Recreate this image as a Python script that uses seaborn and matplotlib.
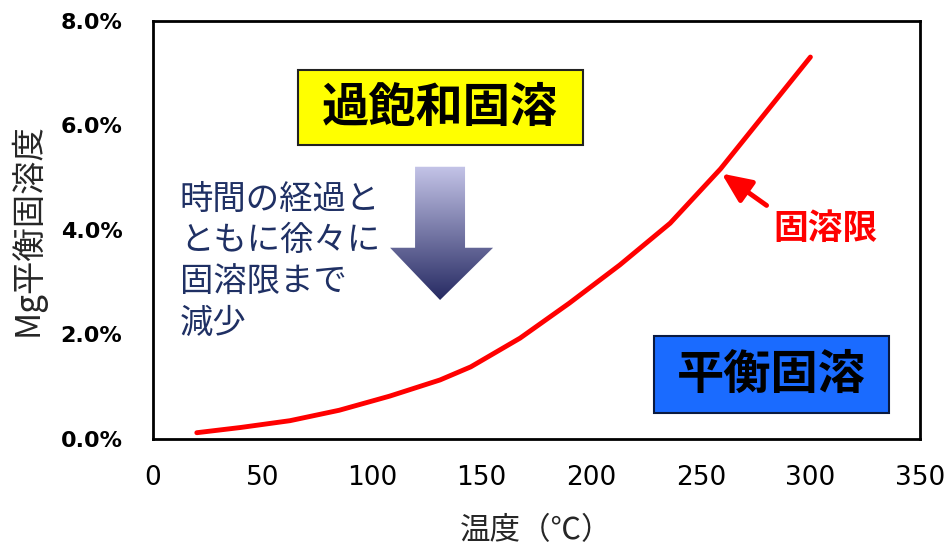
import numpy as np
import pandas as pd
import seaborn as sns
import matplotlib.pyplot as plt
from matplotlib.patches import Rectangle, Polygon
from matplotlib.ticker import FuncFormatter

# solubility curve (temperature C, Mg %)
temp_c = [20, 40, 62.5, 85, 108, 131, 145, 167.5, 190, 213, 236, 259, 277, 300]
mg_pct = [0.12, 0.22, 0.35, 0.55, 0.82, 1.13, 1.38, 1.93, 2.60, 3.33, 4.13, 5.17, 6.11, 7.31]

x_ticks = [0, 50, 100, 150, 200, 250, 300, 350]
y_ticks = [0, 2, 4, 6, 8]

label_super = "過飽和固溶"
label_eq = "平衡固溶"
label_limit = "固溶限"
note_text = "時間の経過と\nともに徐々に\n固溶限まで\n減少"

sns.set_theme(style="white")
plt.rcParams["font.family"] = ["Noto Sans CJK JP", "DejaVu Sans"]

df = pd.DataFrame({"temp": temp_c, "mg": mg_pct})

fig = plt.figure(figsize=(9.46, 5.51), dpi=100)
ax = fig.add_axes([0.1617, 0.2033, 0.8108, 0.7586])

sns.lineplot(data=df, x="temp", y="mg", ax=ax, color="#ff0000", linewidth=3.5,
             solid_capstyle="round", solid_joinstyle="round")

ax.set_xlim(0, 350)
ax.set_ylim(0, 8)
ax.set_xticks(x_ticks)
ax.set_yticks(y_ticks)
ax.yaxis.set_major_formatter(FuncFormatter(lambda v, p: f"{v:.1f}%"))
ax.tick_params(length=0, colors="black")
ax.tick_params(axis="y", pad=22, labelsize=16, labelfontfamily="DejaVu Sans")
ax.tick_params(axis="x", pad=19, labelsize=19, labelfontfamily="DejaVu Sans")
for sp in ax.spines.values():
    sp.set_color("black")
    sp.set_linewidth(2)

ax.set_xlabel("温度（℃）", fontsize=22, labelpad=17)
ax.set_ylabel("Mg平衡固溶度", fontsize=24, labelpad=11)

# yellow box
ax.add_patch(Rectangle((66.2, 5.63), 130.1, 1.43, facecolor="#ffff00",
                       edgecolor="#222222", linewidth=1.5, zorder=3))
ax.text(131, 6.34, label_super, ha="center", va="center", fontsize=34,
        fontweight="bold", color="black", zorder=4)

# blue box
ax.add_patch(Rectangle((228.7, 0.50), 107.2, 1.47, facecolor="#1a6bff",
                       edgecolor="#0a1a40", linewidth=1.5, zorder=3))
ax.text(282, 1.22, label_eq, ha="center", va="center", fontsize=34,
        fontweight="bold", color="black", zorder=4)

# note text
ax.text(12.3, 4.92, note_text, ha="left", va="top", fontsize=24,
        color="#1f3064", linespacing=1.24)

# gradient arrow
arrow = Polygon([(119.6, 5.21), (142.4, 5.21), (142.4, 3.66), (155.2, 3.66),
                 (131, 2.66), (108.2, 3.66), (119.6, 3.66)], closed=True,
                facecolor="none", edgecolor="none")
ax.add_patch(arrow)
grad = np.linspace(0, 1, 256).reshape(-1, 1)
cmap = sns.blend_palette(["#c4c4e8", "#262a62"], as_cmap=True)
img = ax.imshow(grad, extent=[108, 156, 2.66, 5.21], origin="upper",
                aspect="auto", cmap=cmap, zorder=2)
img.set_clip_path(arrow)
ax.set_xlim(0, 350)
ax.set_ylim(0, 8)

# solubility limit label
ax.annotate("", xy=(259.5, 5.08), xytext=(280, 4.47),
            arrowprops=dict(arrowstyle="-|>,head_length=0.9,head_width=0.4",
                            mutation_scale=20, color="#ff0000", linewidth=3.5,
                            shrinkA=0, shrinkB=0))
ax.text(307, 4.02, label_limit, ha="center", va="center", fontsize=25,
        fontweight="bold", color="#ff0000")

fig.canvas.draw()
for lab in ax.get_yticklabels():
    lab.set_fontweight("bold")

fig.savefig("out.png", dpi=100)
